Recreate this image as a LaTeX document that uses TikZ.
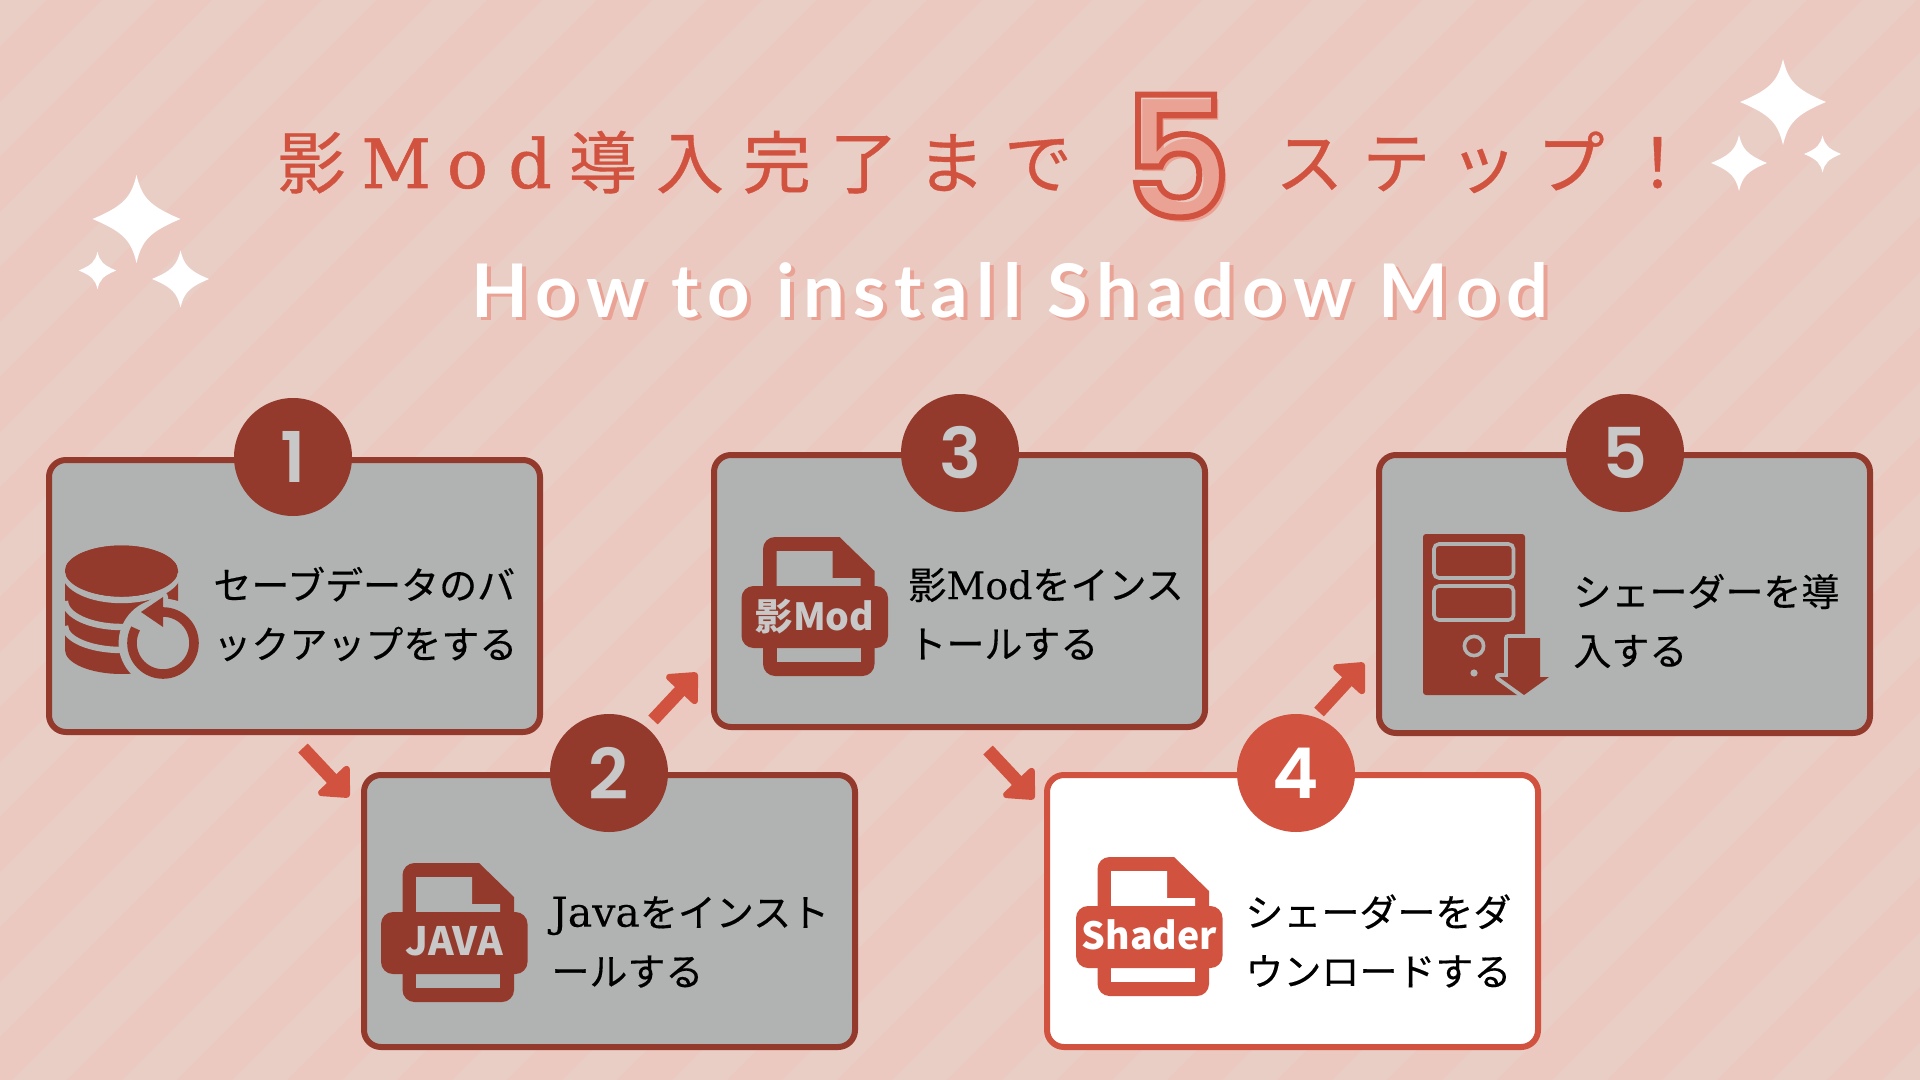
\documentclass[tikz,border=0pt]{standalone}
\usepackage{fontspec}
\usetikzlibrary{arrows.meta}
\setmainfont{Noto Sans CJK JP}
\newfontfamily\bodyjp[FakeBold=0.35]{Noto Sans CJK JP}
\newfontfamily\latbody[FakeBold=0.2]{DejaVu Serif}
\newfontfamily\ttljp[LetterSpace=28,FakeBold=0.5]{Noto Sans CJK JP}
\newfontfamily\ttllat[FakeBold=0.8]{DejaVu Serif}
\newfontfamily\subfont[LetterSpace=11.3]{Lato}
\newfontfamily\digitfont{Poppins SemiBold}
\definecolor{bglight}{HTML}{E9CEC6}
\definecolor{bgdark}{HTML}{EBC9C1}
\definecolor{dkred}{HTML}{933A2C}
\definecolor{coral}{HTML}{D1533F}
\definecolor{boxgray}{HTML}{B1B3B2}
\definecolor{numgray}{HTML}{C8C8C8}
\definecolor{shadowpink}{HTML}{E9A294}
\newcommand{\fileicon}[4]{%
  \begin{scope}[shift={(#1,#2)}]
    \fill[#3] (479,863) -- (514,897) [rounded corners=6pt] -- (514,1002) -- (402.5,1002) -- (402.5,863) [sharp corners] -- cycle;
    \fill[#4] (416,877) -- (472,877) -- (472,904) -- (500,904) -- (500,912) -- (416,912) -- cycle;
    \fill[#4] (416,974) rectangle (500,988);
    \fill[#3,rounded corners=6pt] (381,912) rectangle (527.5,974);
  \end{scope}}
\newcommand{\sparkleat}[3]{%
  \fill[white,shift={(#1,#2)},x=#3*0.5pt,y=-#3*0.5pt]
    (0,-1) .. controls (0.12,-0.5) and (0.28,-0.3) .. (1,0)
    .. controls (0.28,0.3) and (0.12,0.5) .. (0,1)
    .. controls (-0.12,0.5) and (-0.28,0.3) .. (-1,0)
    .. controls (-0.28,-0.3) and (-0.12,-0.5) .. (0,-1) -- cycle;}
\newcommand{\dbarc}[2]{(65,#1) .. controls (65,#1+0.55*#2) and (90.3,#1+#2) .. (121.5,#1+#2) .. controls (152.7,#1+#2) and (178,#1+0.55*#2) .. (178,#1)}
\tikzset{
  stepbox/.style={draw=dkred,fill=boxgray,line width=3pt,rounded corners=8.5pt,minimum width=245.5pt,minimum height=136pt,inner sep=0pt,outer sep=0pt,anchor=north west},
  stepboxw/.style={stepbox,draw=coral,fill=white},
  numdisc/.style={circle,fill=dkred,minimum size=118*0.5pt,inner sep=0pt,font=\digitfont\fontsize{35}{35}\selectfont,text=numgray},
  numdiscw/.style={numdisc,fill=coral,text=white},
  bodytext/.style={align=left,anchor=west,inner sep=0pt,text=black,font=\bodyjp\fontsize{19}{29.5}\selectfont},
  flow/.style={draw=coral,line width=6.5pt,-{Triangle[length=13.5pt,width=24pt,round]},coral},
  icontext/.style={inner sep=0pt,font=\bfseries\fontsize{18.7}{18.7}\selectfont},
  titletext/.style={anchor=base west,inner sep=0pt,text=coral}
}
\begin{document}
\begin{tikzpicture}[x=0.5pt,y=-0.5pt]
\useasboundingbox (0,0) rectangle (1920,1080);
% background
\fill[bglight] (0,0) rectangle (1920,1080);
\begin{scope}
  \clip (0,0) rectangle (1920,1080);
  \foreach \k in {0,...,27}{
    \pgfmathsetmacro{\ca}{47+110*\k}
    \pgfmathsetmacro{\cb}{102+110*\k}
    \fill[bgdark] (\ca,0) -- (\cb,0) -- (\cb-1080,1080) -- (\ca-1080,1080) -- cycle;
  }
\end{scope}
% sparkles
\sparkleat{136.5}{219}{44}
\sparkleat{97.5}{270.5}{18.7}
\sparkleat{180.5}{279}{28.5}
\sparkleat{1783}{102}{43}
\sparkleat{1739}{163}{28}
\sparkleat{1822.5}{154}{18.5}
% title
\node[titletext] (t1) at (277,188) {\ttljp\fontsize{34}{34}\selectfont 影\kern8pt{\ttllat M\kern8pt o\kern10.2pt d}\kern8.5pt 導入完了まで};
\node[titletext] (t2) at (1275,188) {\ttljp\fontsize{34}{34}\selectfont ステップ！};
% big five
\node[inner sep=0pt,text=shadowpink] (five0) at (1182,161) {\digitfont\fontsize{84}{84}\selectfont 5};
\node[inner sep=0pt] (five) at (1177,156) {\digitfont\fontsize{84}{84}\selectfont\special{pdf:code q 1 Tr 3 w 0.82 0.325 0.247 RG}5\special{pdf:code Q}};
% subtitle
\node[inner sep=0pt,text=shadowpink] (s0) at (1014,293) {\subfont\bfseries\fontsize{37}{37}\selectfont How to install Shadow Mod};
\node[inner sep=0pt,text=white] (s1) at (1010,290) {\subfont\bfseries\fontsize{37}{37}\selectfont How to install Shadow Mod};
% boxes
\node[stepbox] (b1) at (49,460) {};
\node[stepbox] (b2) at (364,775) {};
\node[stepbox] (b3) at (714,455) {};
\node[stepboxw] (b4) at (1047,775) {};
\node[stepbox,minimum height=139pt] (b5) at (1379,455) {};
% discs
\node[numdisc] (c1) at (293,457) {1};
\node[numdisc] (c2) at (609,773) {2};
\node[numdisc] (c3) at (960,453) {3};
\node[numdiscw] (c4) at (1296,773) {4};
\node[numdisc] (c5) at (1625,453) {5};
% body text
\node[bodytext] (x1) at (213,614) {セーブデータのバ\\ックアップをする};
\node[bodytext] (x2) at (551,942) {{\latbody\fontsize{20.5}{29.5}\selectfont Java}をインスト\\ールする};
\node[bodytext] (x3) at (908,614) {影{\latbody Mod}をインス\\トールする};
\node[bodytext] (x4) at (1245,941) {シェーダーをダ\\ウンロードする};
\node[bodytext] (x5) at (1573,621) {シェーダーを導\\入する};
% connectors
\coordinate (a1s) at (303,748); \coordinate (a1e) at (349,797);
\coordinate (a2s) at (653,720); \coordinate (a2e) at (697,673);
\coordinate (a3s) at (988,750); \coordinate (a3e) at (1034,799);
\coordinate (a4s) at (1319,712); \coordinate (a4e) at (1364,663);
\draw[flow] (a1s) -- (a1e);
\draw[flow] (a2s) -- (a2e);
\draw[flow] (a3s) -- (a3e);
\draw[flow] (a4s) -- (a4e);
% icon 1 database
\fill[dkred] (65,571) -- \dbarc{650}{24} -- (178,571) -- cycle;
\fill[dkred] (65,571) -- (65,650) -- (178,650) -- (178,571) -- cycle;
\fill[dkred] (121.5,571) ellipse [x radius=56.5,y radius=25.5];
\draw[boxgray,line width=3.2pt] \dbarc{573}{27};
\draw[boxgray,line width=3.2pt] \dbarc{601}{26};
\draw[boxgray,line width=3.2pt] \dbarc{626}{24};
\fill[dkred] (121.5,571) ellipse [x radius=56.5,y radius=25.5];
\fill[boxgray] (163,643) circle [radius=22.2pt];
\fill[boxgray,draw=boxgray,line width=5pt,line join=round] (141,612) -- (163,597) -- (163,627) -- cycle;
\draw[dkred,line width=4.8pt] (163,612) arc[start angle=90,end angle=-208,radius=15.5pt];
\fill[dkred] (141,612) -- (163,597) -- (163,627) -- cycle;
% icon 2
\fileicon{0}{0}{dkred}{boxgray}
\node[icontext,text=numgray,font=\bfseries\fontsize{19.5}{19.5}\selectfont] (i2) at (454,941) {JAVA};
% icon 3
\fileicon{360.5}{-326}{dkred}{boxgray}
\node[icontext,text=numgray] (i3) at (815,617) {影Mod};
% icon 4
\fileicon{695}{-6}{coral}{white}
\node[icontext,text=white] (i4) at (1149.5,935) {Shader};
% icon 5 server
\fill[dkred,rounded corners=1.5pt] (1423,534) rectangle (1525,695);
\draw[boxgray,line width=1.8pt,rounded corners=2.5pt] (1434,544) rectangle (1513.5,578);
\draw[boxgray,line width=1.8pt,rounded corners=2.5pt] (1434,586) rectangle (1513.5,620);
\draw[boxgray,line width=1.8pt] (1474,646) circle [radius=4.8pt];
\fill[boxgray] (1474,673) circle [radius=1.8pt];
\draw[boxgray,line width=4pt,line join=round] (1508,638) -- (1540,638) -- (1540,677) -- (1549,677) -- (1524,695) -- (1499,677) -- (1508,677) -- cycle;
\fill[dkred] (1508,638) -- (1540,638) -- (1540,677) -- (1549,677) -- (1524,695) -- (1499,677) -- (1508,677) -- cycle;
\end{tikzpicture}
\end{document}
